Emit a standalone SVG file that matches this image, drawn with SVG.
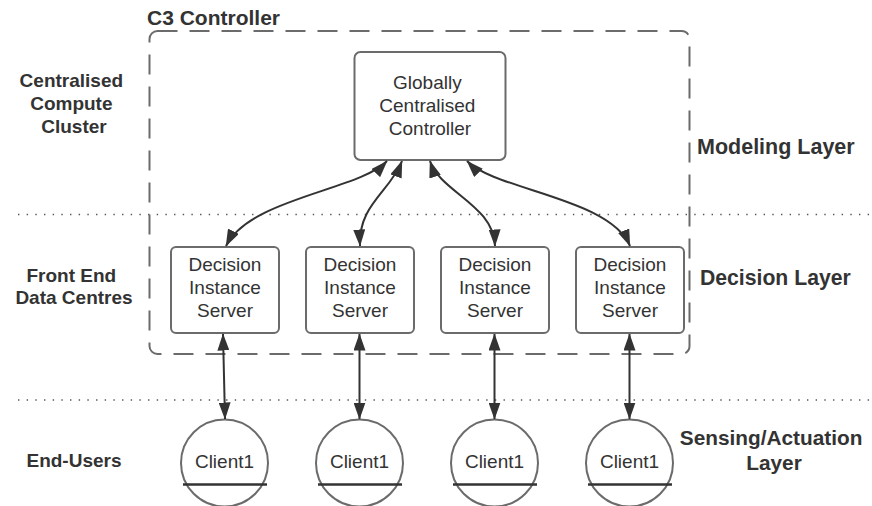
<svg xmlns="http://www.w3.org/2000/svg" width="872" height="506" viewBox="0 0 872 506">
  <style>
    .box { fill: #ffffff; stroke: #6b6b6b; stroke-width: 2; }
    .label { font-family: "Liberation Sans", Arial, sans-serif; font-size: 19px; fill: #333333; text-anchor: middle; }
    .head { font-family: "Liberation Sans", Arial, sans-serif; font-weight: bold; fill: #333333; }
    .tier { stroke: #555555; stroke-width: 1.4; stroke-dasharray: 1.4 7.27; fill: none; }
    .group { fill: none; stroke: #6b6b6b; stroke-width: 2; stroke-dasharray: 20 12; }
    .link { fill: none; stroke: #333333; stroke-width: 2; marker-start: url(#arrow); marker-end: url(#arrow); }
    .base { stroke: #333333; stroke-width: 2.5; }
  </style>
  <defs>
    <marker id="arrow" viewBox="0 0 17 12" refX="16.5" refY="6" markerWidth="17" markerHeight="12" markerUnits="userSpaceOnUse" orient="auto-start-reverse">
      <path d="M0,0 L17,6 L0,12 Z" fill="#333333"/>
    </marker>
  </defs>

  <rect width="872" height="506" fill="#ffffff"/>

  <!-- tier separators -->
  <line class="tier" x1="18" y1="214.5" x2="872" y2="214.5"/>
  <line class="tier" x1="18" y1="400" x2="872" y2="400"/>

  <!-- controller boundary -->
  <g id="c3-controller">
    <rect class="group" x="149.5" y="31" width="540" height="323" rx="8"/>
    <text class="head" x="147" y="25" font-size="21">C3 Controller</text>
  </g>

  <!-- tier titles -->
  <g id="tier-labels">
    <text class="head" font-size="19" text-anchor="middle">
      <tspan x="74" y="87">Centralised</tspan>
      <tspan x="74" y="110">Compute</tspan>
      <tspan x="74" y="133">Cluster</tspan>
    </text>
    <text class="head" font-size="19" text-anchor="middle">
      <tspan x="74" y="282">Front End</tspan>
      <tspan x="74" y="304">Data Centres</tspan>
    </text>
    <text class="head" font-size="19" text-anchor="middle" x="74" y="467">End-Users</text>
    <text class="head" font-size="21.5" x="697" y="154">Modeling Layer</text>
    <text class="head" font-size="21.2" x="700" y="285">Decision Layer</text>
    <text class="head" font-size="20.8" text-anchor="middle">
      <tspan x="774" y="445">Sensing/Actuation</tspan>
      <tspan x="774" y="470">Layer</tspan>
    </text>
  </g>

  <!-- central controller -->
  <g id="global-controller">
    <rect class="box" x="354.5" y="52" width="151" height="108" rx="6"/>
    <text class="label">
      <tspan x="430" y="89">Globally</tspan>
      <tspan x="430" y="112">Centralised</tspan>
      <tspan x="430" y="135">Controller</tspan>
    </text>
  </g>

  <!-- decision instance servers -->
  <g id="server-1">
    <rect class="box" x="171" y="247" width="108" height="86" rx="5"/>
    <text class="label"><tspan x="225" y="271">Decision</tspan><tspan x="225" y="294">Instance</tspan><tspan x="225" y="317">Server</tspan></text>
  </g>
  <g id="server-2">
    <rect class="box" x="306" y="247" width="108" height="86" rx="5"/>
    <text class="label"><tspan x="360" y="271">Decision</tspan><tspan x="360" y="294">Instance</tspan><tspan x="360" y="317">Server</tspan></text>
  </g>
  <g id="server-3">
    <rect class="box" x="441" y="247" width="108" height="86" rx="5"/>
    <text class="label"><tspan x="495" y="271">Decision</tspan><tspan x="495" y="294">Instance</tspan><tspan x="495" y="317">Server</tspan></text>
  </g>
  <g id="server-4">
    <rect class="box" x="576" y="247" width="108" height="86" rx="5"/>
    <text class="label"><tspan x="630" y="271">Decision</tspan><tspan x="630" y="294">Instance</tspan><tspan x="630" y="317">Server</tspan></text>
  </g>

  <!-- clients -->
  <g id="client-1">
    <circle class="box" cx="224.5" cy="463" r="43.5"/>
    <line class="base" x1="183" y1="484.5" x2="267" y2="484.5"/>
    <text class="label" x="224.5" y="468">Client1</text>
  </g>
  <g id="client-2">
    <circle class="box" cx="359.5" cy="463" r="43.5"/>
    <line class="base" x1="318" y1="484.5" x2="402" y2="484.5"/>
    <text class="label" x="359.5" y="468">Client1</text>
  </g>
  <g id="client-3">
    <circle class="box" cx="494.5" cy="463" r="43.5"/>
    <line class="base" x1="453" y1="484.5" x2="537" y2="484.5"/>
    <text class="label" x="494.5" y="468">Client1</text>
  </g>
  <g id="client-4">
    <circle class="box" cx="629.5" cy="463" r="43.5"/>
    <line class="base" x1="588" y1="484.5" x2="672" y2="484.5"/>
    <text class="label" x="629.5" y="468">Client1</text>
  </g>

  <!-- connectors -->
  <g id="connectors">
    <path class="link" d="M387,161 C360,190 250,198 226,246"/>
    <path class="link" d="M402,161 C390,192 358,205 360,246"/>
    <path class="link" d="M430,161 C440,192 494,205 495,246"/>
    <path class="link" d="M467,161 C495,190 610,198 630,246"/>
    <path class="link" d="M223,334 L225,419"/>
    <path class="link" d="M359.5,334 L359.5,419"/>
    <path class="link" d="M494.5,334 L494.5,419"/>
    <path class="link" d="M629.5,334 L629.5,419"/>
  </g>
</svg>
